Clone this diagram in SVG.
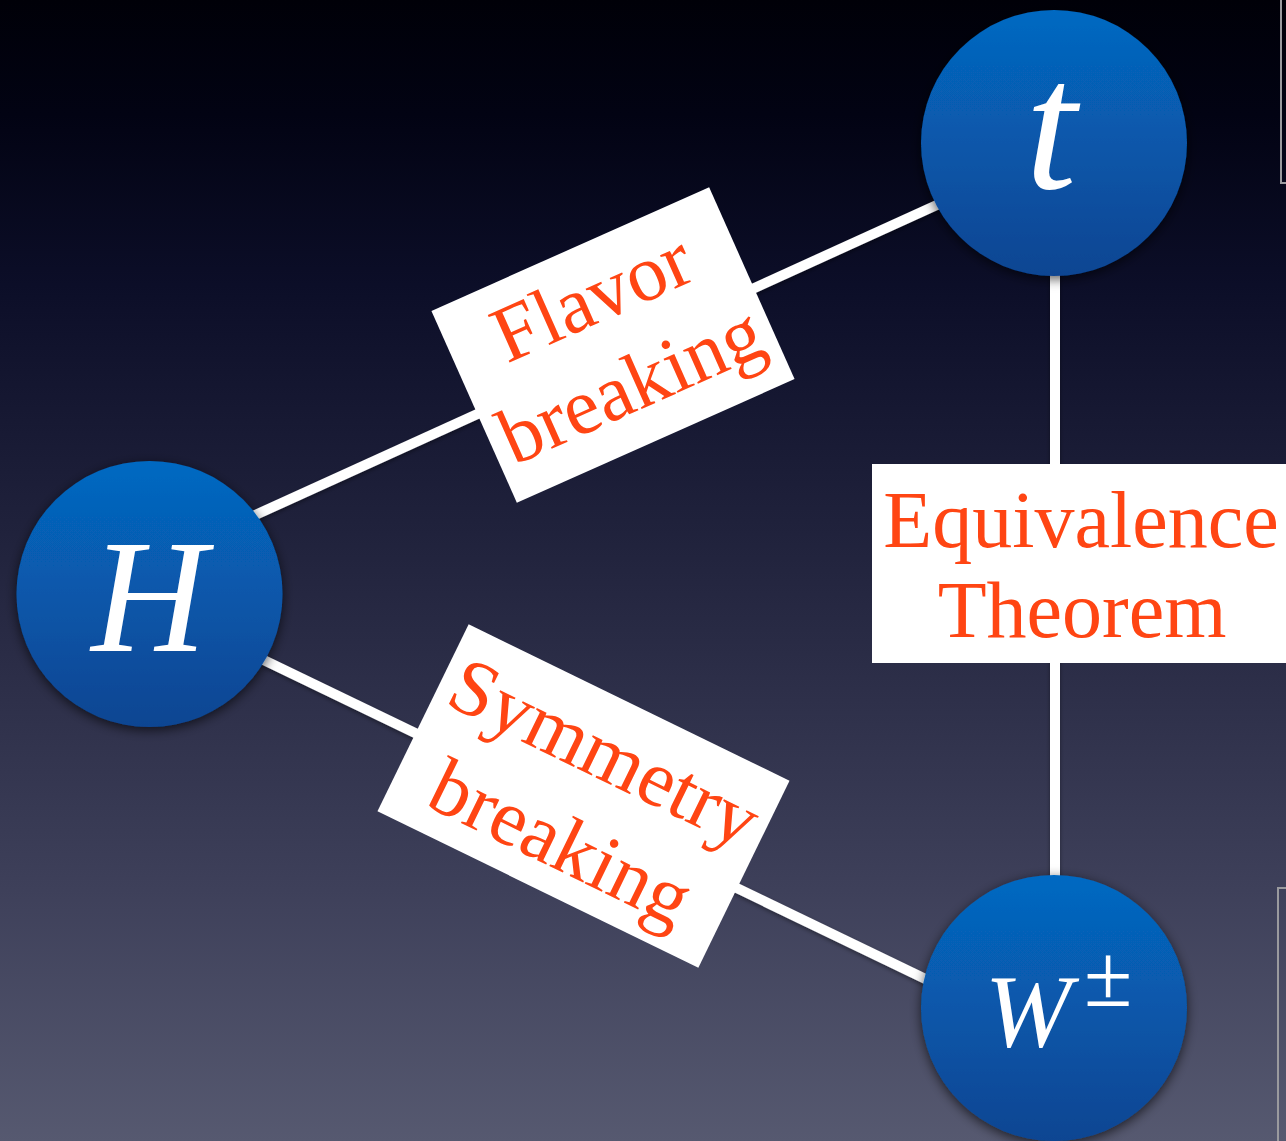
<svg xmlns="http://www.w3.org/2000/svg" width="1286" height="1141" viewBox="0 0 1286 1141">
<defs>
<linearGradient id="bg" x1="0" y1="0" x2="0" y2="1">
<stop offset="0" stop-color="#000008"/>
<stop offset="0.1" stop-color="#020313"/>
<stop offset="0.25" stop-color="#0c0e28"/>
<stop offset="0.5" stop-color="#23253f"/>
<stop offset="0.78" stop-color="#3e405a"/>
<stop offset="1" stop-color="#565970"/>
</linearGradient>
<linearGradient id="ball" x1="0" y1="0" x2="0" y2="1">
<stop offset="0" stop-color="#0569c2"/>
<stop offset="1" stop-color="#0a4592"/>
</linearGradient>
<filter id="sh" x="-20%" y="-20%" width="140%" height="140%">
<feDropShadow dx="0" dy="3" stdDeviation="6" flood-color="#000" flood-opacity="0.65"/>
</filter>
<filter id="lsh" filterUnits="userSpaceOnUse" x="0" y="0" width="1286" height="1141">
<feDropShadow dx="0" dy="2" stdDeviation="2" flood-color="#000" flood-opacity="0.4"/>
</filter>
</defs>
<style>
.node circle{fill:url(#ball);filter:url(#sh)}
.sym{fill:#fff;font-family:"Liberation Serif","DejaVu Serif",serif;font-style:italic}
.lbl rect{fill:#fff}
.lbl text{fill:#ff4513;font-family:"Liberation Serif","DejaVu Serif",serif;font-size:80px;text-anchor:middle}
.edge{stroke:#fff;stroke-width:10;fill:none}
.frame{fill:none;stroke:#9a9a9e;stroke-width:2}
</style>
<rect width="1286" height="1141" fill="url(#bg)"/>
<rect class="frame" x="1281" y="-10" width="20" height="193"/>
<rect class="frame" x="1278" y="888" width="20" height="300"/>
<g id="connectors" filter="url(#lsh)">
<line class="edge" x1="240" y1="522" x2="950" y2="199"/>
<line class="edge" x1="245" y1="651" x2="940" y2="986"/>
<line class="edge" x1="1055" y1="250" x2="1055" y2="900"/>
</g>
<g id="label-flavor" class="lbl" transform="translate(613,345) rotate(-24)">
<rect x="-152" y="-105" width="304" height="210"/>
<text x="0" y="-26">Flavor</text>
<text x="0" y="70">breaking</text>
</g>
<g id="label-symmetry" class="lbl" transform="translate(583.5,796) rotate(26)">
<rect x="-178.5" y="-104" width="357" height="208"/>
<text x="0" y="-22">Symmetry</text>
<text x="0" y="78">breaking</text>
</g>
<g id="label-equivalence" class="lbl">
<rect x="872" y="464" width="420" height="199"/>
<text x="1081" y="547">Equivalence</text>
<text x="1082" y="637">Theorem</text>
</g>
<g id="node-t" class="node">
<circle cx="1054" cy="143" r="133"/>
<text class="sym" x="1051" y="188" font-size="185" text-anchor="middle">t</text>
</g>
<g id="node-H" class="node">
<circle cx="149.5" cy="594" r="133"/>
<text class="sym" x="149" y="651" font-size="160" text-anchor="middle">H</text>
</g>
<g id="node-W" class="node">
<circle cx="1054" cy="1008" r="133"/>
<text class="sym" x="1028" y="1046" font-size="104" text-anchor="middle">W</text>
<text x="1084" y="1006" font-size="88" fill="#fff" font-family="Liberation Serif, DejaVu Serif, serif">±</text>
</g>
</svg>
